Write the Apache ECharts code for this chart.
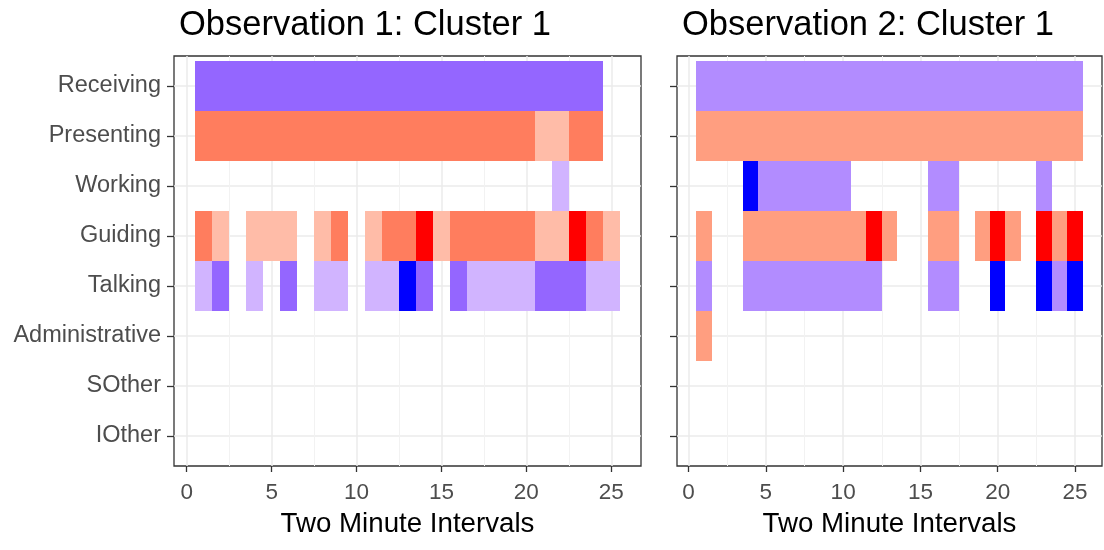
<!DOCTYPE html>
<html><head><meta charset="utf-8">
<script src="https://cdn.jsdelivr.net/npm/echarts@6/dist/echarts.min.js"></script>
<style>html,body{margin:0;padding:0;background:#fff}#c{width:1104px;height:550px}</style>
</head><body><div id="c"></div>
<script>
// ---- data ----
const categories = ['Receiving','Presenting','Working','Guiding','Talking','Administrative','SOther','IOther'];
const categoryFamily = ['purple','red','purple','red','purple','red','purple','red'];
const xTicks = [0, 5, 10, 15, 20, 25];
const titles = ['Observation 1: Cluster 1', 'Observation 2: Cluster 1'];
// intensity level per two-minute interval 1..25 (0 = none, 1 = low, 2 = mid, 3 = high)
const obs1Receiving      = [2,2,2,2,2,2,2,2,2,2,2,2,2,2,2,2,2,2,2,2,2,2,2,2,0];
const obs1Presenting     = [2,2,2,2,2,2,2,2,2,2,2,2,2,2,2,2,2,2,2,2,1,1,2,2,0];
const obs1Working        = [0,0,0,0,0,0,0,0,0,0,0,0,0,0,0,0,0,0,0,0,0,1,0,0,0];
const obs1Guiding        = [2,1,0,1,1,1,0,1,2,0,1,2,2,3,1,2,2,2,2,2,1,1,3,2,1];
const obs1Talking        = [1,2,0,1,0,2,0,1,1,0,1,1,3,2,0,2,1,1,1,1,2,2,2,1,1];
const obs1Administrative = [0,0,0,0,0,0,0,0,0,0,0,0,0,0,0,0,0,0,0,0,0,0,0,0,0];
const obs1SOther         = [0,0,0,0,0,0,0,0,0,0,0,0,0,0,0,0,0,0,0,0,0,0,0,0,0];
const obs1IOther         = [0,0,0,0,0,0,0,0,0,0,0,0,0,0,0,0,0,0,0,0,0,0,0,0,0];

const obs2Receiving      = [2,2,2,2,2,2,2,2,2,2,2,2,2,2,2,2,2,2,2,2,2,2,2,2,2];
const obs2Presenting     = [2,2,2,2,2,2,2,2,2,2,2,2,2,2,2,2,2,2,2,2,2,2,2,2,2];
const obs2Working        = [0,0,0,3,2,2,2,2,2,2,0,0,0,0,0,2,2,0,0,0,0,0,2,0,0];
const obs2Guiding        = [2,0,0,2,2,2,2,2,2,2,2,3,2,0,0,2,2,0,2,3,2,0,3,2,3];
const obs2Talking        = [2,0,0,2,2,2,2,2,2,2,2,2,0,0,0,2,2,0,0,3,0,0,3,2,3];
const obs2Administrative = [2,0,0,0,0,0,0,0,0,0,0,0,0,0,0,0,0,0,0,0,0,0,0,0,0];
const obs2SOther         = [0,0,0,0,0,0,0,0,0,0,0,0,0,0,0,0,0,0,0,0,0,0,0,0,0];
const obs2IOther         = [0,0,0,0,0,0,0,0,0,0,0,0,0,0,0,0,0,0,0,0,0,0,0,0,0];

const obs1Rows = [obs1Receiving, obs1Presenting, obs1Working, obs1Guiding, obs1Talking, obs1Administrative, obs1SOther, obs1IOther];
const obs2Rows = [obs2Receiving, obs2Presenting, obs2Working, obs2Guiding, obs2Talking, obs2Administrative, obs2SOther, obs2IOther];

// ---- styles ----
const palettes = [
  { purple: [null, '#D1B4FF', '#9466FF', '#0000FF'], red: [null, '#FFBCA8', '#FF7D5E', '#FF0000'] },
  { purple: [null, '#D1B4FF', '#B28CFF', '#0000FF'], red: [null, '#FFBCA8', '#FF9E80', '#FF0000'] }
];
const FONT = 'Liberation Sans, Arial, sans-serif';
const grids = [
  { left: 174, top: 56, width: 467, height: 410 },
  { left: 677, top: 56, width: 425, height: 410 }
];

function buildData(rows) {
  const out = [];
  rows.forEach((row, ci) => {
    row.forEach((lvl, i) => {
      if (lvl > 0) out.push([i + 1, ci + 1, lvl, ci]);
    });
  });
  return out;
}

const option = {
  backgroundColor: '#fff',
  animation: false,
  title: titles.map((t, i) => ({
    text: t, left: grids[i].left, top: 3,
    textStyle: { fontFamily: FONT, fontSize: 34.5, fontWeight: 'normal', color: '#000' }
  })),
  grid: grids.map(g => Object.assign({ show: true, borderColor: '#333', borderWidth: 1.3, backgroundColor: '#fff', containLabel: false }, g)),
  xAxis: grids.map((g, i) => ({
    type: 'value', gridIndex: i, min: -0.75, max: 26.75,
    name: 'Two Minute Intervals', nameLocation: 'middle', nameGap: 44,
    nameTextStyle: { fontFamily: FONT, fontSize: 27.7, color: '#000' },
    axisLine: { show: false, onZero: false },
    axisTick: { show: true, customValues: xTicks, length: 6, lineStyle: { color: '#333', width: 1.3 } },
    axisLabel: { customValues: xTicks, margin: 15, fontFamily: FONT, fontSize: 22.5, color: '#4D4D4D' },
    splitLine: { show: true, lineStyle: { color: '#EBEBEB', width: 1.5 } },
    minorTick: { show: false, splitNumber: 2 },
    minorSplitLine: { show: true, lineStyle: { color: '#F2F2F2', width: 1 } }
  })),
  yAxis: grids.map((g, i) => ({
    type: 'value', gridIndex: i, min: 0.4, max: 8.6, inverse: true,
    axisLine: { show: false, onZero: false },
    axisTick: { show: true, customValues: [1,2,3,4,5,6,7,8], length: 7, lineStyle: { color: '#333', width: 1.3 } },
    axisLabel: {
      show: i === 0, customValues: [1,2,3,4,5,6,7,8], margin: 13,
      fontFamily: FONT, fontSize: 23.5, color: '#4D4D4D',
      formatter: v => categories[Math.round(v) - 1] || ''
    },
    splitLine: { show: true, lineStyle: { color: '#EBEBEB', width: 1.5 } }
  })),
  series: [obs1Rows, obs2Rows].map((rows, pi) => ({
    type: 'custom', xAxisIndex: pi, yAxisIndex: pi,
    data: buildData(rows),
    encode: { x: 0, y: 1 },
    renderItem: (params, api) => {
      const x = api.value(0), y = api.value(1), lvl = api.value(2), ci = api.value(3);
      const p0 = api.coord([x - 0.5, y - 0.5]);
      const p1 = api.coord([x + 0.5, y + 0.5]);
      const x0 = Math.round(Math.min(p0[0], p1[0])), x1 = Math.round(Math.max(p0[0], p1[0]));
      const y0 = Math.round(Math.min(p0[1], p1[1])), y1 = Math.round(Math.max(p0[1], p1[1]));
      const c = palettes[pi][categoryFamily[ci]][lvl];
      return {
        type: 'rect',
        shape: { x: x0, y: y0, width: x1 - x0, height: y1 - y0 },
        style: { fill: c }
      };
    }
  }))
};
const chart = echarts.init(document.getElementById('c'), null, { renderer: 'canvas' });
chart.setOption(option);
</script></body></html>
